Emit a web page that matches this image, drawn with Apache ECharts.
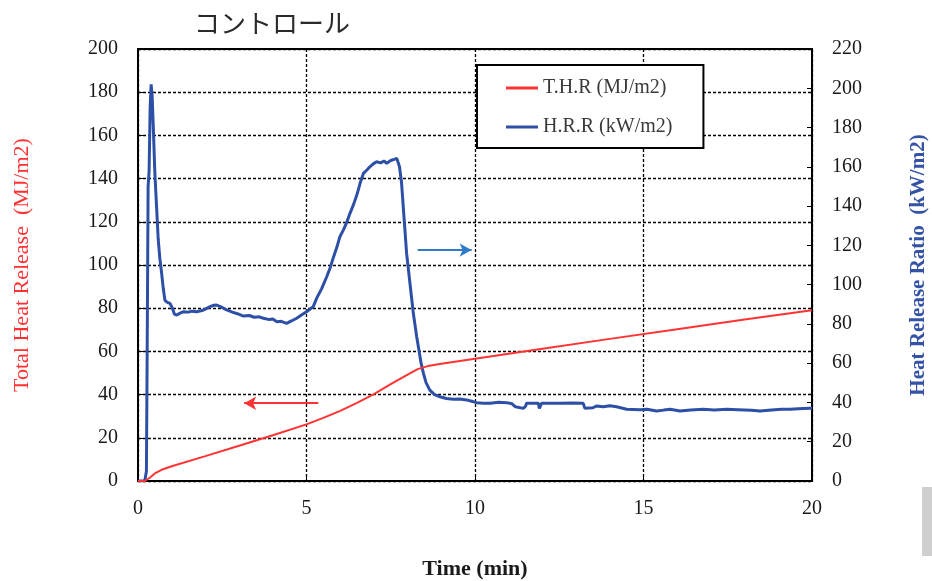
<!DOCTYPE html>
<html><head><meta charset="utf-8">
<script src="https://cdn.jsdelivr.net/npm/echarts@6/dist/echarts.min.js"></script>
<style>html,body{margin:0;padding:0;background:#fff}#c{width:932px;height:581px}</style>
</head><body><div id="c"></div>
<script>
var titleText = 'コントロール';
var xTicks = [0, 5, 10, 15, 20];
var leftTicks = [0, 20, 40, 60, 80, 100, 120, 140, 160, 180, 200];
var rightTicks = [0, 20, 40, 60, 80, 100, 120, 140, 160, 180, 200, 220];
var seriesNames = ['T.H.R (MJ/m2)', 'H.R.R (kW/m2)'];

var thrTime = [0, 0.2, 0.35, 0.5, 0.7, 1, 2, 3, 4, 5, 5.5, 6, 6.5, 7, 7.5, 8, 8.3, 8.6, 9, 10, 12, 14, 16, 18, 20];
var thrValue = [0, 0, 1.5, 3.5, 5.2, 6.8, 11.5, 16.3, 21.2, 26.2, 29.2, 32.5, 36.2, 40.2, 44.8, 49.3, 51.8, 53.2, 54.3, 56.6, 61.2, 65.8, 70.3, 74.8, 79.0];

var hrrTime = [0,0.2,0.25,0.27,0.30,0.33,0.36,0.39,0.42,0.45,0.50,0.55,0.60,0.65,0.70,0.75,0.80,0.87,0.95,1.02,1.08,1.15,1.25,1.35,1.5,1.6,1.74,1.9,2.0,2.14,2.25,2.33,2.45,2.63,2.8,2.95,3.13,3.3,3.45,3.6,3.72,3.9,4.0,4.12,4.25,4.41,4.55,4.71,4.85,5.0,5.1,5.2,5.3,5.45,5.6,5.7,5.8,5.9,5.99,6.1,6.2,6.29,6.4,6.5,6.59,6.69,6.8,6.88,6.98,7.08,7.2,7.3,7.38,7.5,7.6,7.68,7.73,7.76,7.82,7.92,7.97,8.07,8.17,8.27,8.32,8.4,8.47,8.55,8.66,8.8,8.96,9.15,9.36,9.55,9.75,9.9,10.05,10.25,10.45,10.7,10.94,11.1,11.2,11.43,11.5,11.53,11.7,11.88,11.91,11.95,11.98,12.3,12.52,12.9,13.21,13.26,13.5,13.6,13.81,14.0,14.2,14.5,14.9,15.1,15.39,15.6,15.79,16.08,16.4,16.77,17.1,17.47,17.8,18.2,18.46,18.8,19.1,19.35,19.6,19.94,20];
var hrrValue = [0,0,5,60,150,158,190,202,196,182,157,140,123,113,106,98,92,91,90.5,88,85,84.5,85.5,86.2,86,86.5,86.2,86.8,87.5,88.8,89.5,89.6,88.8,87.1,86,85.2,84,84.3,83.4,83.6,82.9,82.2,82.5,81.1,81.3,80.3,81.5,82.9,84.5,86.2,87.5,88.8,93,98,104,108.5,114,119,124.4,128,132,136.3,141,146,151.6,156.7,158.5,160,161.5,162.6,162,163,161.8,163.2,163.8,164.3,165,160,152,128,116,100.7,85.4,73.5,68.4,60,54.8,50,46.3,44,42.9,42,41.6,41.8,41.3,40.6,39.9,39.6,39.6,40.1,39.9,39.3,37.8,37,38,39.6,39.6,39.6,37,37,39.6,39.6,39.6,39.7,39.6,37,37.3,38.2,37.8,38.3,37.8,36.5,36.3,36.5,35.6,36.1,36.5,35.6,36.2,36.5,36.2,36.5,36.3,36.0,35.6,36.1,36.5,36.5,36.8,37.0,37];

// annotation arrows (data coordinates)
var thrArrow = [[5.35, 36], [3.15, 36]];
var hrrArrow = [[8.3, 117.6], [9.9, 117.6]];

function zip(a, b) { return a.map(function (v, i) { return [v, b[i]]; }); }

var serif = '"Liberation Serif", "DejaVu Serif", serif';
var chart = echarts.init(document.getElementById('c'));
var dashed = { color: '#000', width: 1.3, type: [3, 2] };
var tickLabel = { fontFamily: serif, fontSize: 20, color: '#1a1a1a' };
chart.setOption({
  animation: false,
  backgroundColor: '#fff',
  title: {
    text: titleText, left: 194, top: 10, padding: 0,
    textStyle: { fontFamily: '"Noto Sans CJK JP", sans-serif', fontSize: 26, fontWeight: 'normal', color: '#2a2a2a' }
  },
  grid: { left: 138, right: 120, top: 49, bottom: 100, outerBoundsMode: 'none', containLabel: false,
    show: true, borderColor: '#000', borderWidth: 2, backgroundColor: 'transparent' },
  legend: {
    orient: 'vertical', left: 477, top: 65,
    padding: [13, 31, 11, 29], itemGap: 19,
    borderColor: '#000', borderWidth: 2, backgroundColor: '#fff',
    icon: 'rect', itemWidth: 32, itemHeight: 3,
    textStyle: { fontFamily: serif, fontSize: 20, color: '#3a3a3a' },
    data: seriesNames
  },
  xAxis: {
    type: 'value', min: xTicks[0], max: xTicks[xTicks.length - 1], interval: 5,
    name: 'Time (min)', nameLocation: 'middle', nameGap: 77,
    nameTextStyle: { fontFamily: serif, fontSize: 22, fontWeight: 'bold', color: '#1a1a1a' },
    axisLine: { lineStyle: { color: '#000', width: 2 } },
    axisTick: { inside: true, length: 5, lineStyle: { color: '#000' } },
    axisLabel: Object.assign({ margin: 18 }, tickLabel),
    splitLine: { show: true, lineStyle: dashed }
  },
  yAxis: [{
    type: 'value', min: 0, max: leftTicks[leftTicks.length - 1], interval: 20,
    name: 'Total Heat Release  (MJ/m2)', nameLocation: 'middle', nameGap: 105,
    nameTextStyle: { fontFamily: serif, fontSize: 22, color: '#ff3030' },
    axisLine: { show: true, lineStyle: { color: '#000', width: 2 } },
    axisTick: { show: true, inside: true, length: 5, lineStyle: { color: '#000' } },
    axisLabel: Object.assign({ margin: 20 }, tickLabel),
    splitLine: { show: true, lineStyle: dashed }
  }, {
    type: 'value', min: 0, max: rightTicks[rightTicks.length - 1], interval: 20, position: 'right',
    name: 'Heat Release Ratio  (kW/m2)', nameLocation: 'middle', nameGap: 96,
    nameTextStyle: { fontFamily: serif, fontSize: 21, fontWeight: 'bold', color: '#3553a6' },
    axisLine: { show: true, lineStyle: { color: '#000', width: 2 } },
    axisTick: { show: true, inside: true, length: 5, lineStyle: { color: '#000' } },
    axisLabel: Object.assign({ margin: 20 }, tickLabel),
    splitLine: { show: false }
  }],
  graphic: [{ type: 'rect', shape: { x: 922, y: 487, width: 10, height: 69 }, style: { fill: '#cfcfcf' } }],
  series: [{
    name: seriesNames[0], type: 'line', yAxisIndex: 0, showSymbol: false, symbol: 'none',
    data: zip(thrTime, thrValue), lineStyle: { color: '#ff3333', width: 2 }, itemStyle: { color: '#ff3333' },
    z: 3,
    markLine: {
      silent: true, symbol: ['none', 'arrow'], symbolSize: [10, 12], label: { show: false },
      lineStyle: { color: '#ff3333', width: 2, type: 'solid' },
      data: [[{ coord: thrArrow[0] }, { coord: thrArrow[1] }]]
    }
  }, {
    name: seriesNames[1], type: 'line', yAxisIndex: 1, showSymbol: false, symbol: 'none',
    data: zip(hrrTime, hrrValue), lineStyle: { color: '#2e4fa6', width: 3 }, itemStyle: { color: '#2e4fa6' },
    z: 2,
    markLine: {
      silent: true, symbol: ['none', 'arrow'], symbolSize: [10, 12], label: { show: false },
      lineStyle: { color: '#2f7cc4', width: 2, type: 'solid' },
      data: [[{ coord: hrrArrow[0] }, { coord: hrrArrow[1] }]]
    }
  }]
});
</script></body></html>
